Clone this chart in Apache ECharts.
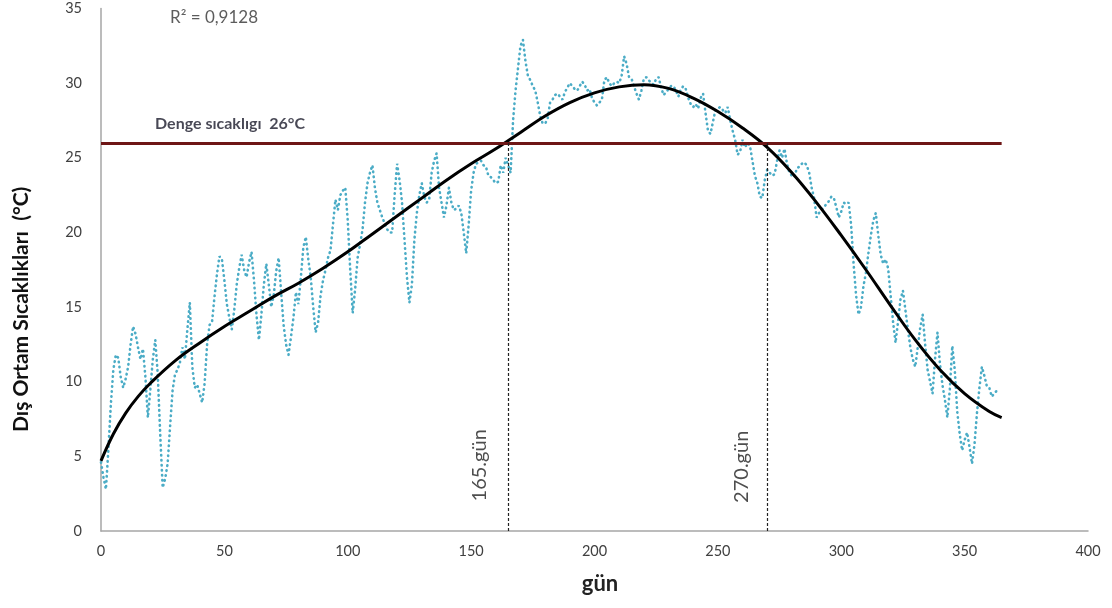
<!DOCTYPE html>
<html>
<head>
<meta charset="utf-8">
<script src="https://cdn.jsdelivr.net/npm/echarts@6/dist/echarts.min.js"></script>
<style>
  html, body { margin: 0; padding: 0; background: #fff; }
  #chart { width: 1112px; height: 608px; }
</style>
</head>
<body>
<div id="chart"></div>
<script>
// Daily outdoor temperature (°C), day 0 .. 364
const dailyTemps = [
  4.6, 3.6, 2.8, 5.5, 8.5, 10.8, 11.8, 11.6, 10.3, 9.6,
  10.2, 11.0, 12.5, 13.7, 13.2, 12.3, 11.5, 12.2, 10.3, 7.6,
  9.5, 11.5, 12.8, 10.5, 6.5, 2.9, 3.5, 4.5, 7.0, 9.4,
  10.5, 10.8, 11.3, 12.3, 11.5, 13.5, 15.3, 11.0, 9.6, 9.8,
  9.2, 8.6, 9.9, 12.5, 13.8, 14.0, 15.7, 17.2, 18.4, 18.2,
  16.8, 15.2, 14.3, 13.5, 14.8, 16.5, 17.6, 18.5, 17.5, 17.0,
  18.0, 18.7, 16.8, 14.5, 12.8, 14.5, 16.5, 17.9, 16.5, 15.0,
  15.8, 17.4, 18.3, 16.0, 13.8, 12.5, 11.8, 13.0, 14.3, 16.0,
  15.2, 17.0, 19.0, 19.7, 18.2, 17.0, 15.0, 13.3, 14.0, 15.8,
  16.8, 17.5, 18.3, 18.8, 20.5, 22.2, 21.5, 22.5, 22.8, 23.0,
  20.8, 17.5, 14.6, 16.2, 18.3, 19.2, 20.2, 22.0, 23.3, 24.0,
  24.5, 23.0, 22.0, 21.5, 21.0, 20.6, 20.2, 20.0, 20.0, 22.5,
  24.6, 23.5, 22.0, 19.5, 17.0, 15.3, 16.5, 19.5, 21.3, 22.5,
  23.3, 22.4, 22.0, 22.2, 24.0, 24.8, 25.3, 23.0, 22.0, 21.0,
  21.8, 23.0, 22.0, 21.5, 21.6, 21.8, 21.3, 20.0, 18.6, 20.5,
  22.8, 24.0, 24.6, 24.7, 24.8, 24.5, 24.4, 23.8, 23.7, 23.5,
  23.3, 23.4, 24.5, 24.0, 25.0, 24.5, 24.0, 27.5, 29.5, 31.0,
  32.5, 32.9, 31.5, 30.5, 30.2, 29.8, 29.5, 28.7, 27.8, 27.3,
  27.3, 27.6, 28.7, 28.9, 29.2, 29.3, 29.1, 28.9, 29.4, 29.7,
  30.0, 29.8, 29.6, 29.5, 29.8, 30.1, 29.9, 29.5, 29.6, 29.0,
  28.7, 28.5, 28.7, 28.9, 30.2, 30.4, 30.0, 29.8, 30.0, 30.1,
  30.0, 30.5, 31.8, 31.3, 30.4, 30.3, 29.8, 29.3, 28.9, 29.5,
  30.3, 30.4, 30.2, 30.0, 29.9, 30.3, 30.4, 29.7, 29.2, 29.4,
  29.6, 29.8, 29.8, 29.5, 29.1, 29.6, 29.8, 29.6, 29.0, 28.6,
  28.4, 28.6, 28.3, 29.0, 29.3, 28.0, 26.8, 26.6, 27.4, 28.2,
  28.3, 28.4, 28.2, 28.0, 28.4, 27.5, 26.8, 26.2, 25.2, 25.4,
  26.2, 25.7, 26.0, 25.8, 24.8, 23.8, 23.3, 22.4, 22.3, 23.5,
  24.2, 24.0, 23.8, 23.9, 24.8, 25.5, 25.0, 25.6, 24.6, 24.0,
  23.8, 23.7, 24.3, 24.4, 24.6, 24.7, 24.5, 24.0, 23.0, 22.3,
  21.0, 21.3, 21.5, 21.7, 21.9, 22.1, 22.4, 22.3, 21.7, 21.0,
  21.4, 22.0, 21.9, 22.0, 20.5, 17.9, 15.8, 14.5, 15.0, 16.4,
  17.3, 18.6, 19.8, 20.8, 21.3, 19.8, 18.5, 17.9, 18.2, 17.6,
  15.8, 14.0, 12.6, 14.0, 15.5, 16.1, 14.8, 13.5, 12.3, 11.5,
  11.0, 12.3, 13.6, 14.5, 12.5, 10.8, 10.0, 9.2, 11.5, 13.3,
  11.2, 9.8, 8.8, 7.6, 9.5, 12.4, 10.8, 8.0, 6.5, 5.4,
  6.1, 6.6, 5.6, 4.5, 5.8, 7.9, 9.6, 11.0, 10.4, 9.7,
  9.6, 9.0, 9.2, 9.4, 9.3
];

// Polynomial trend line, sampled along the year
const trendDays = [0, 5, 10, 15, 20, 30, 40, 50, 60, 70, 80, 90, 100, 110, 120, 130, 140, 150,
  160, 170, 180, 190, 200, 210, 220, 230, 240, 250, 260, 270, 280, 290, 300, 310, 320,
  330, 340, 350, 360, 365];
const trendValues = [4.7, 6.5, 7.9, 9.0, 9.9, 11.4, 12.6, 13.7, 14.7, 15.7, 16.6, 17.6, 18.7,
  19.9, 21.1, 22.3, 23.5, 24.6, 25.6, 26.7, 27.8, 28.7, 29.35, 29.75, 29.9, 29.65, 29.0,
  28.1, 27.0, 25.7, 24.0, 22.0, 19.8, 17.5, 15.1, 12.8, 10.8, 9.2, 8.0, 7.6];

// Balance temperature and the days the trend crosses it
const balanceTemp = 26;
const crossDays = [165, 270];
const crossLabels = ['165.gün', '270.gün'];
const balanceLabel = 'Denge sıcaklıgı  26°C';
const r2Label = 'R² = 0,9128';
const xTitle = 'gün';
const yTitle = 'Dış Ortam Sıcaklıkları  (°C)';

const xTicks = { min: 0, max: 400, interval: 50 };
const yTicks = { min: 0, max: 35, interval: 5 };

const FONT = 'Lato, "Open Sans", sans-serif';

const dailyData = dailyTemps.map((t, d) => [d, t]);
const trendData = trendDays.map((d, i) => [d, trendValues[i]]);

const chart = echarts.init(document.getElementById('chart'), null, { renderer: 'canvas' });

chart.setOption({
  animation: false,
  backgroundColor: '#ffffff',
  grid: { left: 101, right: 24, top: 8.5, bottom: 77, containLabel: false },
  graphic: [
    {
      // vertical axis title, reading bottom-to-top
      type: 'text',
      x: 11, y: 432,
      rotation: Math.PI / 2,
      style: { text: yTitle, font: 'bold 21px ' + FONT, fill: '#111', align: 'left', verticalAlign: 'top' }
    },
    {
      // horizontal axis title
      type: 'text',
      x: 600, y: 584,
      style: { text: xTitle, font: 'bold 22px ' + FONT, fill: '#222', align: 'center', verticalAlign: 'middle' }
    }
  ],
  xAxis: {
    type: 'value',
    min: xTicks.min, max: xTicks.max, interval: xTicks.interval,
    axisLine: { show: true, lineStyle: { color: '#a6a6a6', width: 1.5 } },
    axisTick: { show: false },
    splitLine: { show: false },
    axisLabel: { fontFamily: FONT, fontSize: 14.5, color: '#404040', margin: 13 }
  },
  yAxis: {
    type: 'value',
    min: yTicks.min, max: yTicks.max, interval: yTicks.interval,
    axisLine: { show: true, lineStyle: { color: '#a6a6a6', width: 1.5 } },
    axisTick: { show: false },
    splitLine: { show: false },
    axisLabel: { fontFamily: FONT, fontSize: 14.5, color: '#404040', margin: 19 }
  },
  series: [
    {
      name: 'daily',
      type: 'line',
      data: dailyData,
      showSymbol: false,
      symbol: 'none',
      lineStyle: { color: '#4bacc6', width: 2.6, type: [0.5, 4.5], cap: 'round' },
      z: 2
    },
    {
      name: 'trend',
      type: 'line',
      data: trendData,
      smooth: 0.4,
      showSymbol: false,
      symbol: 'none',
      lineStyle: { color: '#000', width: 3 },
      z: 4,
      markLine: {
        silent: true,
        symbol: 'none',
        label: { show: false },
        data: [
          [{ coord: [0, balanceTemp], lineStyle: { color: '#6e1616', width: 3, type: 'solid' } },
           { coord: [365, balanceTemp] }],
          [{ coord: [crossDays[0], 0], lineStyle: { color: '#222', width: 1.2, type: [3, 2] } },
           { coord: [crossDays[0], balanceTemp] }],
          [{ coord: [crossDays[1], 0], lineStyle: { color: '#222', width: 1.2, type: [3, 2] } },
           { coord: [crossDays[1], balanceTemp] }]
        ]
      }
    },
    {
      // text annotations anchored to data coordinates
      name: 'notes',
      type: 'scatter',
      symbolSize: 0,
      silent: true,
      z: 5,
      data: [
        { value: [153.5, 4.4], label: { show: true, formatter: crossLabels[0], rotate: 90, fontSize: 20, fontFamily: FONT, color: '#222', position: 'inside' } },
        { value: [259.5, 4.3], label: { show: true, formatter: crossLabels[1], rotate: 90, fontSize: 20, fontFamily: FONT, color: '#222', position: 'inside' } },
        { value: [52.3, 27.3], label: { show: true, formatter: balanceLabel, fontSize: 16, fontWeight: 'bold', fontFamily: FONT, color: '#1a1a2a', position: 'inside' } },
        { value: [45.8, 34.4], label: { show: true, formatter: r2Label, fontSize: 17, fontFamily: FONT, color: '#333', position: 'inside' } }
      ]
    }
  ]
});
</script>
</body>
</html>
